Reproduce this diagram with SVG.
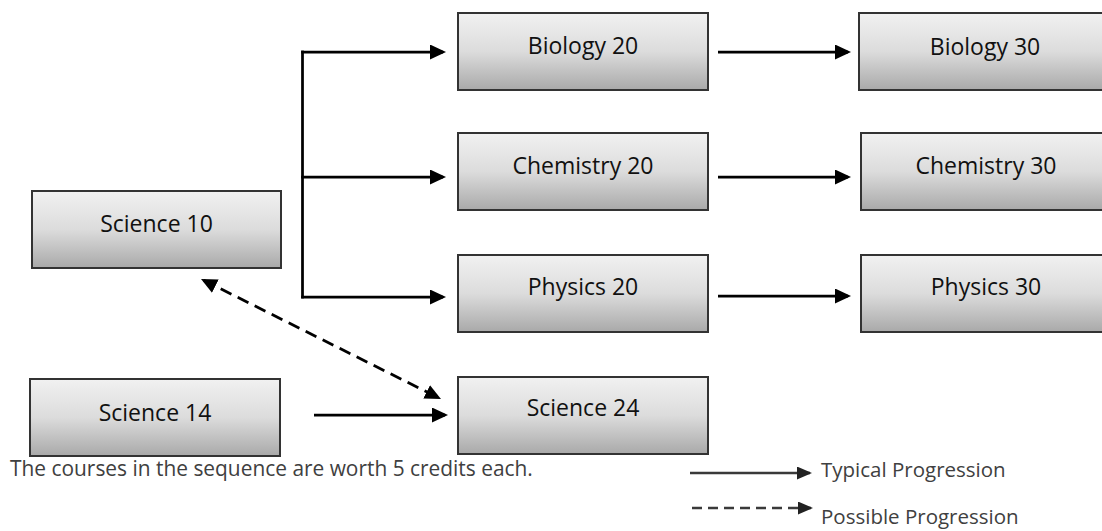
<svg xmlns="http://www.w3.org/2000/svg" width="1102" height="531" viewBox="0 0 1102 531">
<style>
.box{fill:url(#g);stroke:#333;stroke-width:2}
.lbl{font-family:"Open Sans","Noto Sans",sans-serif;font-size:23px;fill:#111;text-anchor:middle}
.con{fill:none;stroke:#000;stroke-width:2.75}
.dash{stroke-dasharray:12 7}
.leg{fill:none;stroke:#3a3a3a;stroke-width:2.5}
.note{font-family:"Open Sans","Noto Sans",sans-serif;font-size:20.5px;fill:#404040}
</style>
<defs>
<linearGradient id="g" x1="0" y1="0" x2="0" y2="1">
<stop offset="0" stop-color="#f1f1f1"/>
<stop offset="0.5" stop-color="#dcdcdc"/>
<stop offset="1" stop-color="#a9a9a9"/>
</linearGradient>
<marker id="ah" markerUnits="userSpaceOnUse" markerWidth="17" markerHeight="16" refX="13" refY="7.5" orient="auto-start-reverse">
<path d="M0,0 L16,7.5 L0,15 z" fill="#000"/>
</marker>
<marker id="ahs" markerUnits="userSpaceOnUse" markerWidth="16" markerHeight="14" refX="13" refY="6.5" orient="auto">
<path d="M0,0 L15,6.5 L0,13 z" fill="#222"/>
</marker>
</defs>

<g id="science10"><rect class="box" x="32" y="191" width="249" height="77"/><text class="lbl" x="156.5" y="232">Science 10</text></g>
<g id="science14"><rect class="box" x="30" y="379" width="250" height="77"/><text class="lbl" x="155" y="421">Science 14</text></g>
<g id="biology20"><rect class="box" x="458" y="13" width="250" height="77"/><text class="lbl" x="583" y="54">Biology 20</text></g>
<g id="chemistry20"><rect class="box" x="458" y="133" width="250" height="77"/><text class="lbl" x="583" y="174">Chemistry 20</text></g>
<g id="physics20"><rect class="box" x="458" y="255" width="250" height="77"/><text class="lbl" x="583" y="295">Physics 20</text></g>
<g id="science24"><rect class="box" x="458" y="377" width="250" height="77"/><text class="lbl" x="583" y="416">Science 24</text></g>
<g id="biology30"><rect class="box" x="859" y="13" width="252" height="77"/><text class="lbl" x="985" y="55">Biology 30</text></g>
<g id="chemistry30"><rect class="box" x="861" y="133" width="250" height="77"/><text class="lbl" x="986" y="174">Chemistry 30</text></g>
<g id="physics30"><rect class="box" x="861" y="255" width="250" height="77"/><text class="lbl" x="986" y="295">Physics 30</text></g>

<g id="connectors">
<path class="con" d="M302.5,50.6 V298.4"/>
<path class="con" d="M301.2,52 H443" marker-end="url(#ah)"/>
<path class="con" d="M301.2,177 H443" marker-end="url(#ah)"/>
<path class="con" d="M301.2,297 H443" marker-end="url(#ah)"/>
<path class="con" d="M718,52 H848" marker-end="url(#ah)"/>
<path class="con" d="M718,177 H848" marker-end="url(#ah)"/>
<path class="con" d="M718,296 H848" marker-end="url(#ah)"/>
<path class="con" d="M314,415 H445" marker-end="url(#ah)"/>
<path class="con dash" d="M203.7,280.3 L438.3,397.7" marker-start="url(#ah)" marker-end="url(#ah)"/>
</g>

<g id="legend">
<path class="leg" d="M690,473 H810" marker-end="url(#ahs)"/>
<path class="leg" d="M692,508 H811" stroke-dasharray="10 6" marker-end="url(#ahs)"/>
<text class="note" x="821" y="477">Typical Progression</text>
<text class="note" x="821" y="524">Possible Progression</text>
</g>
<text class="note" x="10" y="476" style="font-size:20.9px">The courses in the sequence are worth 5 credits each.</text>
</svg>
